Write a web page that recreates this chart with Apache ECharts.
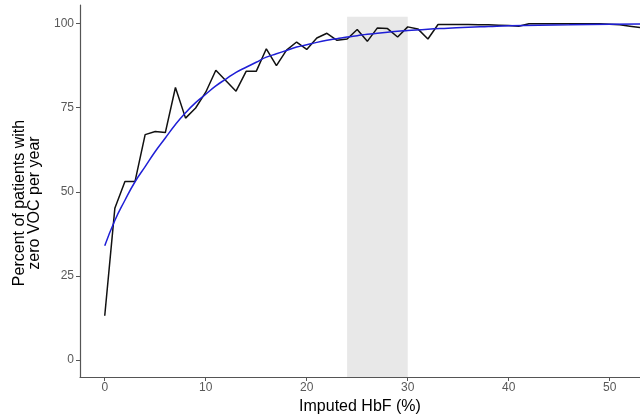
<!DOCTYPE html>
<html>
<head>
<meta charset="utf-8">
<script src="https://cdn.jsdelivr.net/npm/echarts@6/dist/echarts.min.js"></script>
<style>
  html, body { margin: 0; padding: 0; background: #fff; }
  #main { width: 640px; height: 414px; }
</style>
</head>
<body>
<div id="main"></div>
<script>
// observed percent with zero VOC, one point per HbF unit
var hbf = [];
for (var i = 0; i <= 53; i++) hbf.push(i);
var observed = [13.2, 45.1, 53.1, 53.1, 67.0, 67.9, 67.6, 81.0, 71.9, 74.9,
  79.6, 86.1, 83.0, 79.9, 85.8, 85.8, 92.5, 87.5, 92.1, 94.5,
  92.3, 95.7, 97.1, 95.0, 95.4, 98.2, 94.7, 98.7, 98.5, 96.0,
  99.0, 98.4, 95.4, 99.7, 99.7, 99.7, 99.7, 99.6, 99.6, 99.5,
  99.4, 99.2, 99.9, 99.9, 99.9, 99.9, 99.9, 99.9, 99.9, 99.9,
  99.8, 99.6, 99.2, 98.8];

// fitted curve
var fitX = [0, 1, 2, 3, 4, 5, 6, 7, 8, 9, 10, 11, 12, 13, 14, 15, 16, 17, 18, 19,
  20, 21, 22, 23, 24, 25, 26, 27, 28, 29, 30, 32, 34, 36, 38, 40, 43, 46, 50, 53];
var fitY = [34, 41.5, 47.5, 53, 57.5, 62, 66, 70, 73.5, 76.5, 79, 81.5, 83.5, 85.5, 87, 88.5, 90, 91, 92, 93,
  93.7, 94.4, 95, 95.5, 96, 96.4, 96.8, 97.1, 97.4, 97.7, 97.9, 98.3, 98.6, 98.9, 99.1, 99.3, 99.5, 99.6, 99.8, 99.85];

var band = [24, 30];
var xTicks = [0, 10, 20, 30, 40, 50];
var yTicks = [0, 25, 50, 75, 100];

var chartDom = document.getElementById('main');
var myChart = echarts.init(chartDom);

var axisGray = '#555555';
var labelGray = '#595959';

var option = {
  animation: false,
  textStyle: { fontFamily: 'Liberation Sans' },
  grid: { left: 80, right: 0, top: 5, bottom: 37, outerBoundsMode: 'none', containLabel: false },
  xAxis: {
    type: 'value',
    min: -2.45,
    max: 53,
    name: 'Imputed HbF (%)',
    nameLocation: 'middle',
    nameGap: 20,
    nameTextStyle: { color: '#000', fontSize: 16 },
    axisLine: { onZero: false, lineStyle: { color: axisGray, width: 1.2 } },
    axisTick: { show: true, customValues: xTicks, length: 4, lineStyle: { color: axisGray } },
    axisLabel: { customValues: xTicks, color: labelGray, fontSize: 12, margin: 5 },
    splitLine: { show: false }
  },
  yAxis: {
    type: 'value',
    min: -5,
    max: 105.5,
    name: 'Percent of patients with\nzero VOC per year',
    nameLocation: 'middle',
    nameGap: 38,
    nameTextStyle: { color: '#000', fontSize: 16, lineHeight: 15, padding: [0, 24, 0, 0] },
    axisLine: { show: true, onZero: false, lineStyle: { color: axisGray, width: 1.2 } },
    axisTick: { show: true, customValues: yTicks, length: 4, lineStyle: { color: axisGray } },
    axisLabel: { customValues: yTicks, color: labelGray, fontSize: 12, margin: 6 },
    splitLine: { show: false }
  },
  series: [
    {
      type: 'line',
      name: 'observed',
      data: hbf.map(function (x, i) { return [x, observed[i]]; }),
      showSymbol: false,
      lineStyle: { color: '#111', width: 1.5 },
      z: 3,
      markArea: {
        silent: true,
        itemStyle: { color: '#e8e8e8' },
        data: [[{ xAxis: band[0], yAxis: -5 }, { xAxis: band[1], yAxis: 102 }]]
      }
    },
    {
      type: 'line',
      name: 'fit',
      data: fitX.map(function (x, i) { return [x, fitY[i]]; }),
      smooth: true,
      showSymbol: false,
      lineStyle: { color: '#1f1fd6', width: 1.5 },
      z: 4
    }
  ]
};

myChart.setOption(option);
</script>
</body>
</html>
